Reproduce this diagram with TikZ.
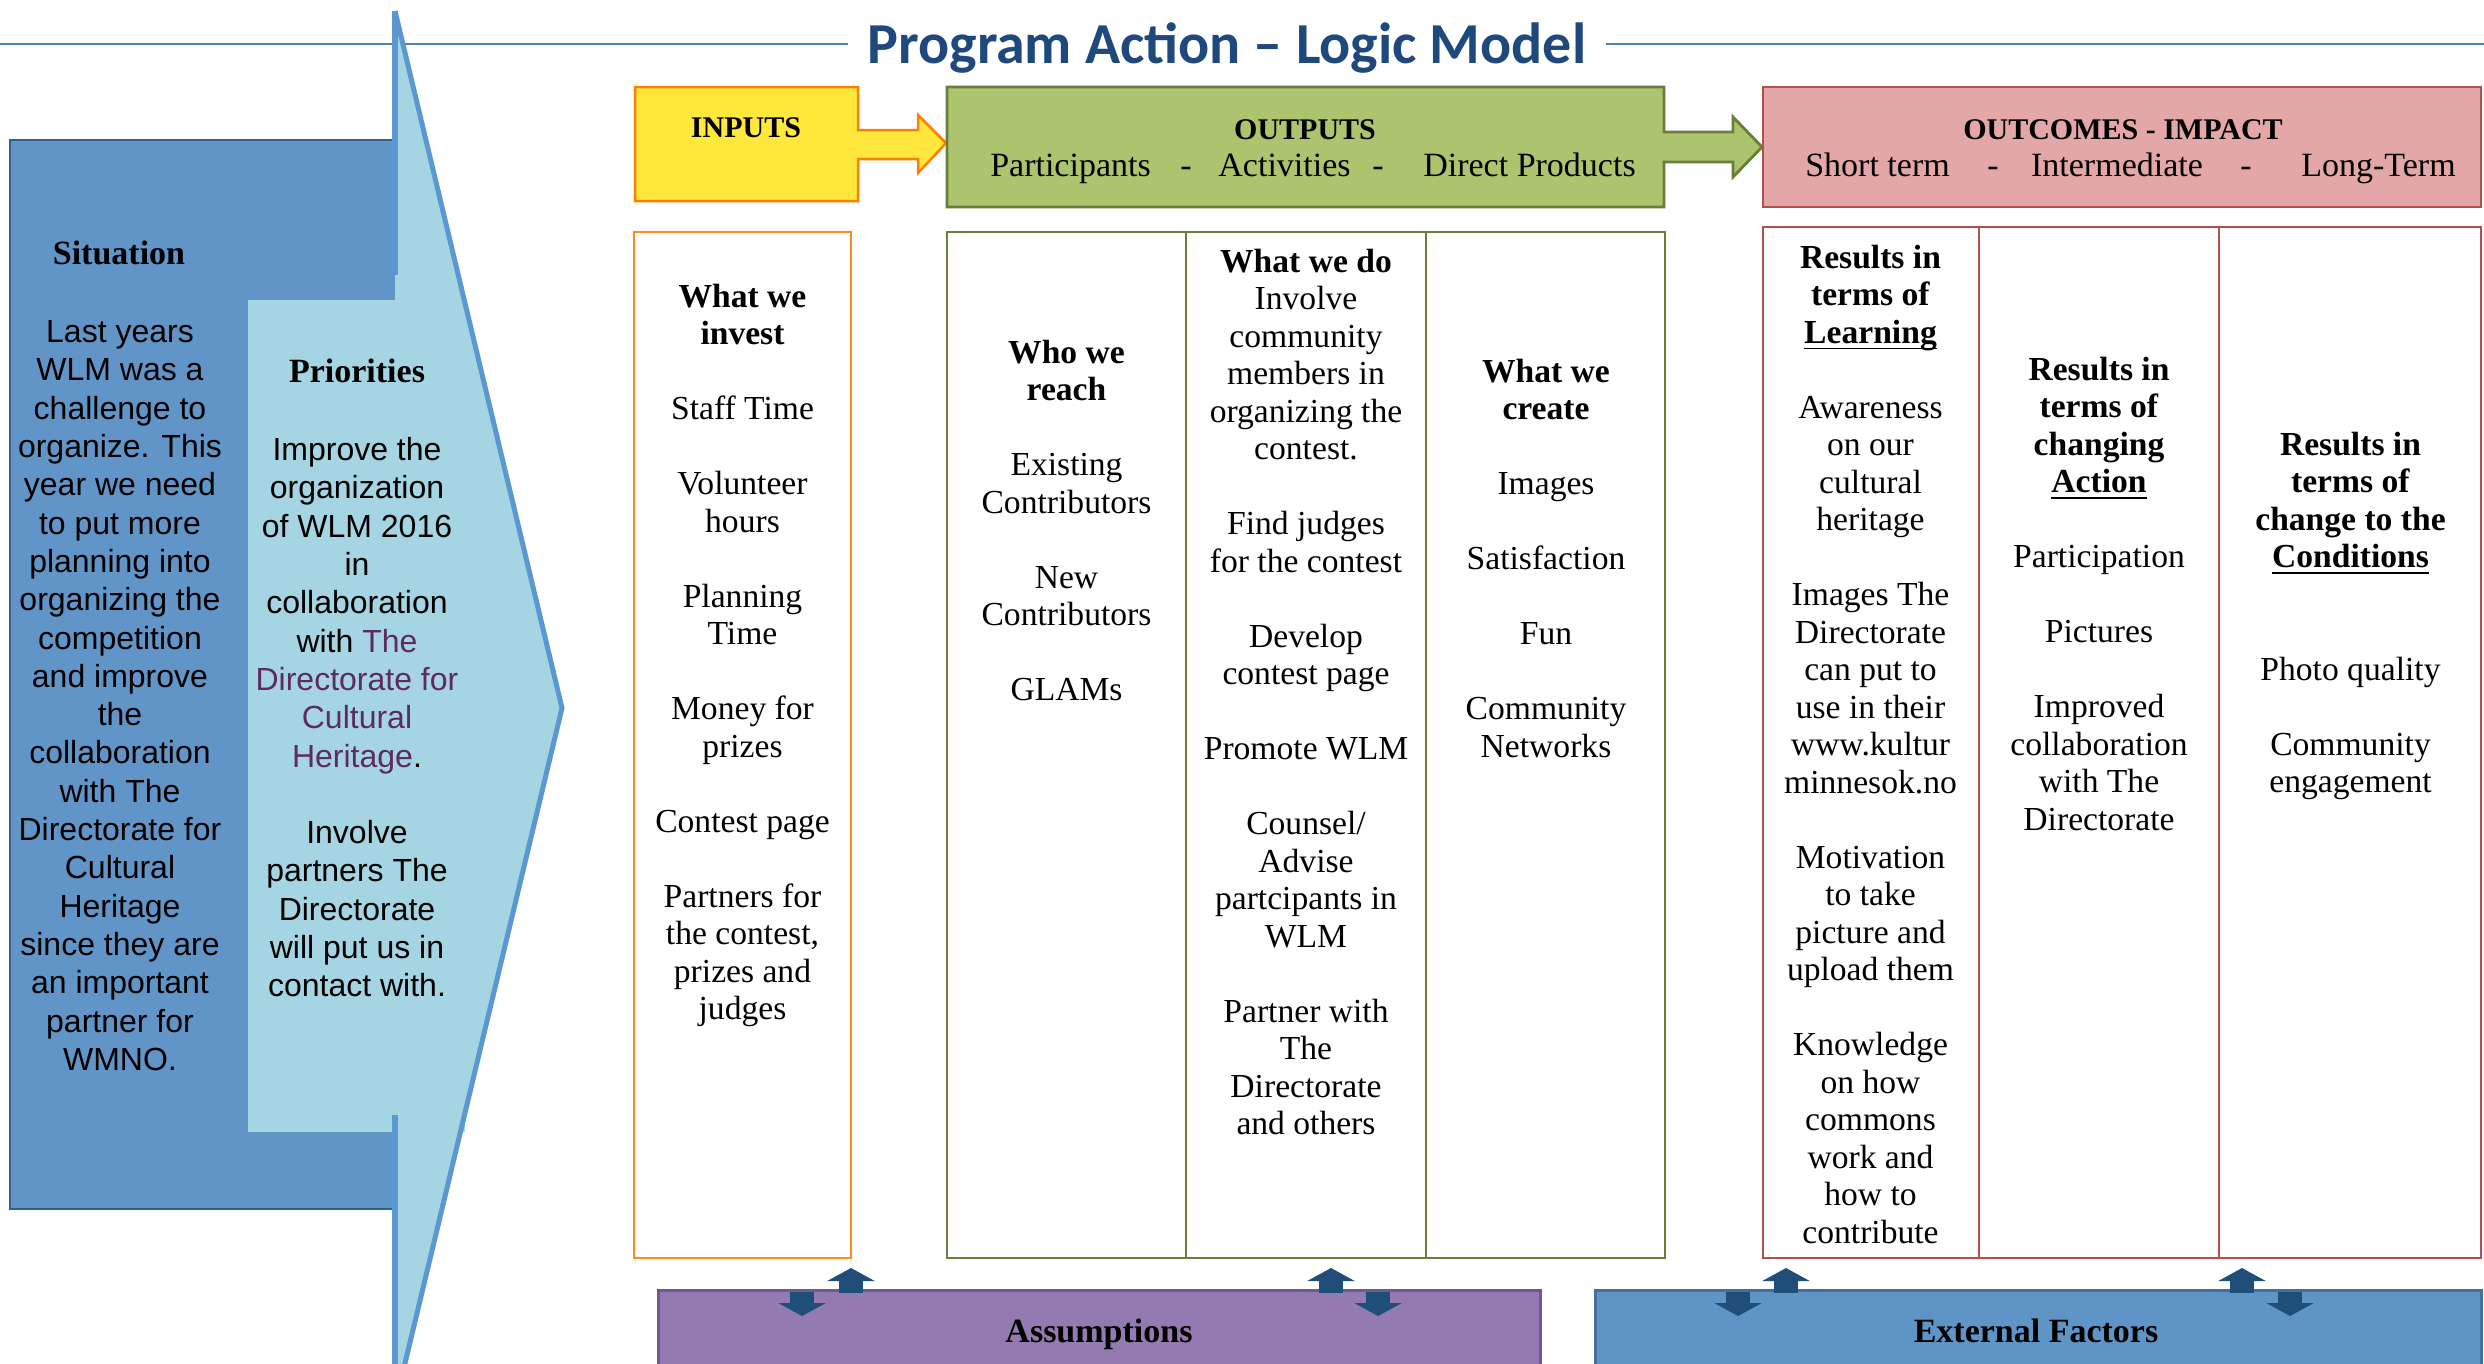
\documentclass[tikz,border=0pt]{standalone}
\usepackage{fontspec}
\setmainfont{Liberation Serif}
\newfontfamily\sansf{Liberation Sans}
\newfontfamily\titlef{Carlito}
\usetikzlibrary{arrows.meta}
\definecolor{sitblue}{HTML}{6195C8}
\definecolor{sitborder}{HTML}{2F5F94}
\definecolor{lightblue}{HTML}{A5D5E3}
\definecolor{arrowblue}{HTML}{5B97D1}
\definecolor{plum}{HTML}{5E2B5E}
\definecolor{titleblue}{HTML}{1F497D}
\definecolor{lineblue}{HTML}{4F81BD}
\definecolor{inyellow}{HTML}{FFE83B}
\definecolor{inorange}{HTML}{FF8000}
\definecolor{colorange}{HTML}{FF8C1A}
\definecolor{outgreen}{HTML}{ABC46D}
\definecolor{outborder}{HTML}{687F3A}
\definecolor{outpink}{HTML}{E2A7A6}
\definecolor{outred}{HTML}{B2504E}
\definecolor{asspurple}{HTML}{937AB0}
\definecolor{assborder}{HTML}{6E5A8E}
\definecolor{extblue}{HTML}{5F94C7}
\definecolor{extborder}{HTML}{41719C}
\definecolor{navy}{HTML}{1F4E79}
\newcommand\bodyf{\fontsize{8.4}{9.375}\selectfont}
\newcommand\sitf{\sansf\fontsize{8}{9.575}\selectfont}
\newcommand\blk{\\[\baselineskip]}
\newcommand\ulsm[1]{\underline{\smash{#1}}}
\tikzset{
  colt/.style={align=center, anchor=north, inner sep=0pt, font=\bodyf},
  sitt/.style={align=center, anchor=north, inner sep=0pt, font=\sitf},
  headt/.style={anchor=base, inner sep=0pt, font=\bfseries\fontsize{7.5}{9}\selectfont},
  subt/.style={anchor=base, inner sep=0pt, font=\fontsize{8.5}{10}\selectfont},
  sidehead/.style={inner sep=0pt, font=\bfseries\fontsize{8.5}{10}\selectfont},
  bottomt/.style={anchor=base, inner sep=0pt, font=\bfseries\fontsize{8.5}{10}\selectfont},
  dblarrow/.style={navy, line width=6pt, -{Triangle[width=11.75pt,length=3.25pt]}},
}
\begin{document}
\begin{tikzpicture}[x=0.25pt,y=-0.25pt]
\useasboundingbox (0,0) rectangle (2484,1363);
\fill[white] (0,0) rectangle (2484,1363);

% title
\node[anchor=base, inner sep=0pt, font=\titlef\bfseries\fontsize{14.5}{16}\selectfont, text=titleblue] (title) at (1227,63) {Program Action – Logic Model};
\draw[lineblue, line width=0.55pt] (0,44) -- (848,44);
\draw[lineblue, line width=0.55pt] (1606,44) -- (2484,44);

% situation box, big arrow, priorities box
\fill[sitblue] (10,140) rectangle (395,1209);
\draw[sitborder, line width=0.7pt] (395,140) -- (10,140) -- (10,1209) -- (395,1209);
\fill[lightblue] (395,11) -- (562,708) -- (395,1405) -- cycle;
\fill[lightblue] (248,300) rectangle (465,1132);
\draw[arrowblue, line width=1.25pt, line join=miter] (395,11) -- (562,708) -- (395,1405);
\draw[arrowblue, line width=1.5pt] (395,11) -- (395,275);
\draw[arrowblue, line width=1.5pt] (395,1115) -- (395,1370);

\node[sidehead] (sithead) at (119,253) {Situation};
\node[sitt] (sitbody) at (120,315) {\strut Last years\\WLM was a\\challenge to\\organize. This\\year we need\\to put more\\planning into\\organizing the\\competition\\and improve\\the\\collaboration\\with The\\Directorate for\\Cultural\\Heritage\\since they are\\an important\\partner for\\WMNO.};
\node[sidehead] (prihead) at (357,371) {Priorities};
\node[sitt] (pribody) at (357,433) {\strut Improve the\\organization\\of WLM 2016\\in\\collaboration\\with \textcolor{plum}{The}\\\textcolor{plum}{Directorate for}\\\textcolor{plum}{Cultural}\\\textcolor{plum}{Heritage}.\blk Involve\\partners The\\Directorate\\will put us in\\contact with.};

% header shapes
\draw[fill=inyellow, draw=inorange, line width=0.625pt, line join=miter]
  (635,87) -- (858,87) -- (858,130) -- (918,130) -- (918,115) -- (946,143) -- (918,173) -- (918,159) -- (858,159) -- (858,201) -- (635,201) -- cycle;
\draw[fill=outgreen, draw=outborder, line width=0.7pt, line join=miter]
  (947,87) -- (1664,87) -- (1664,132) -- (1733,132) -- (1733,117) -- (1762,147) -- (1733,177) -- (1733,162) -- (1664,162) -- (1664,207) -- (947,207) -- cycle;
\draw[fill=outpink, draw=outred, line width=0.7pt] (1763,87) rectangle (2481,207);

\node[headt] (inputs) at (746,137) {INPUTS};
\node[headt] (outputs) at (1305,139) {OUTPUTS};
\node[headt] (outcomes) at (2123,139) {OUTCOMES - IMPACT};
\node[subt] (part) at (1070.5,176) {Participants};
\node[subt] (d1) at (1186,176) {-};
\node[subt] (act) at (1284.5,176) {Activities};
\node[subt] (d2) at (1378,176) {-};
\node[subt] (dp) at (1529.5,176) {Direct Products};
\node[subt] (st) at (1877.5,176) {Short term};
\node[subt] (d3) at (1993,176) {-};
\node[subt] (im) at (2117,176) {Intermediate};
\node[subt] (d4) at (2246,176) {-};
\node[subt] (lt) at (2378.5,176) {Long-Term};

% columns
\draw[colorange, line width=0.625pt] (634,232) rectangle (851,1258);
\draw[outborder, line width=0.55pt] (947,232) rectangle (1665,1258);
\draw[outborder, line width=0.4pt] (1186,232) -- (1186,1258) (1426,232) -- (1426,1258);
\draw[outred, line width=0.55pt] (1763,227) rectangle (2481,1258);
\draw[outred, line width=0.4pt] (1979,227) -- (1979,1258) (2219,227) -- (2219,1258);

\node[colt] (invest) at (742.5,280) {\strut\textbf{What we}\\\textbf{invest}\blk Staff Time\blk Volunteer\\hours\blk Planning\\Time\blk Money for\\prizes\blk Contest page\blk Partners for\\the contest,\\prizes and\\judges};
\node[colt] (reach) at (1066.5,336) {\strut\textbf{Who we}\\\textbf{reach}\blk Existing\\Contributors\blk New\\Contributors\blk GLAMs};
\node[colt] (wedo) at (1306,245) {\strut\textbf{What we do}\\Involve\\community\\members in\\organizing the\\contest.\blk Find judges\\for the contest\blk Develop\\contest page\blk Promote WLM\blk Counsel/\\Advise\\partcipants in\\WLM\blk Partner with\\The\\Directorate\\and others};
\node[colt] (create) at (1546,355) {\strut\textbf{What we}\\\textbf{create}\blk Images\blk Satisfaction\blk Fun\blk Community\\Networks};
\node[colt] (learn) at (1870.5,241) {\strut\textbf{Results in}\\\textbf{terms of}\\\textbf{\ulsm{Learning}}\blk Awareness\\on our\\cultural\\heritage\blk Images The\\Directorate\\can put to\\use in their\\www.kultur\\minnesok.no\blk Motivation\\to take\\picture and\\upload them\blk Knowledge\\on how\\commons\\work and\\how to\\contribute};
\node[colt] (action) at (2099,353) {\strut\textbf{Results in}\\\textbf{terms of}\\\textbf{changing}\\\textbf{\ulsm{Action}}\blk Participation\blk Pictures\blk Improved\\collaboration\\with The\\Directorate};
\node[colt] (cond) at (2350.5,428) {\strut\textbf{Results in}\\\textbf{terms of}\\\textbf{change to the}\\\textbf{\ulsm{Conditions}}\\[2\baselineskip]Photo quality\blk Community\\engagement};

% bottom boxes
\draw[fill=asspurple, draw=assborder, line width=0.75pt] (658,1290) rectangle (1540,1380);
\draw[fill=extblue, draw=extborder, line width=0.75pt] (1595,1290) rectangle (2481,1380);
\node[bottomt] (assump) at (1099,1342) {Assumptions};
\node[bottomt] (extf) at (2036,1342) {External Factors};

% double arrows
\foreach \u/\d [count=\i] in {851/802, 1331/1378, 1786/1738, 2242/2290} {
  \coordinate (up\i s) at (\u,1293);
  \coordinate (up\i e) at (\u,1268);
  \coordinate (dn\i s) at (\d,1292);
  \coordinate (dn\i e) at (\d,1316);
  \draw[dblarrow] (up\i s) -- (up\i e);
  \draw[dblarrow] (dn\i s) -- (dn\i e);
}
\end{tikzpicture}
\end{document}
